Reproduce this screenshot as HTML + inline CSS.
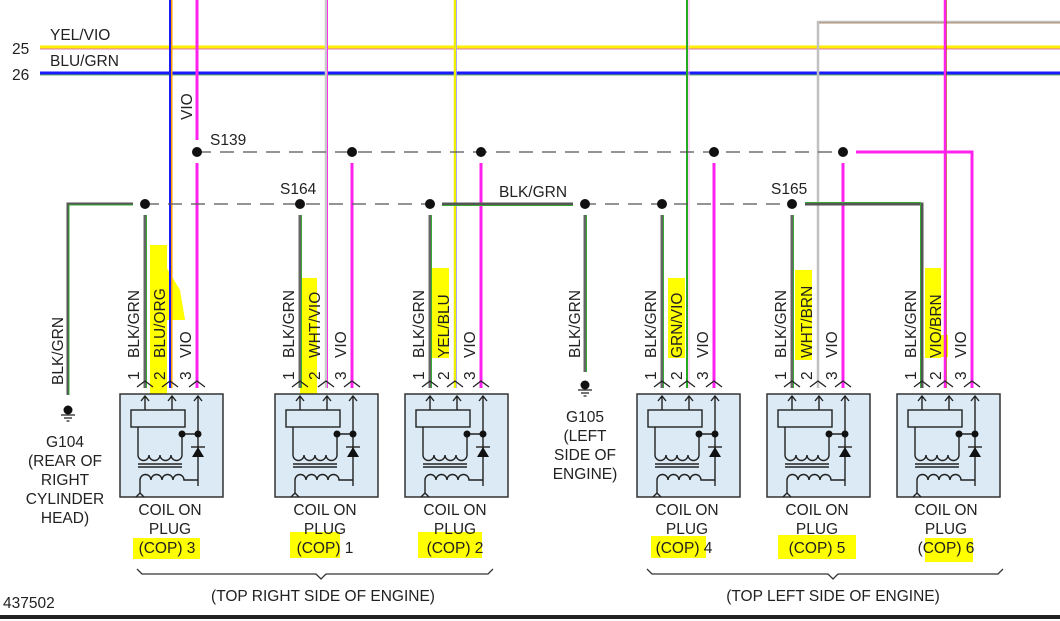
<!DOCTYPE html>
<html><head><meta charset="utf-8"><style>
html,body{margin:0;padding:0;background:#fff;}
svg{display:block;font-family:"Liberation Sans",sans-serif;}
text{fill:#222;font-size:15.5px;}
</style></head><body>
<svg width="1060" height="621" viewBox="0 0 1060 621" xmlns="http://www.w3.org/2000/svg">
<defs>
<g id="cop">
<rect x="0" y="0" width="103" height="103" fill="#dbeaf4" stroke="#333" stroke-width="1.5"/>
<g stroke="#222" stroke-width="1.4" fill="none">
<path d="M25 16V2M21 7l4-5 4 5M52 16V2M48 7l4-5 4 5M78 92V2M74 7l4-5 4 5"/>
<rect x="11" y="16" width="54" height="17" fill="#dbeaf4"/>
<path d="M18 33V61"/>
<path d="M18 61a5.5 5.5 0 0 0 11 0a5.5 5.5 0 0 0 11 0a5.5 5.5 0 0 0 11 0a5.5 5.5 0 0 0 11 0V40H78"/>
<path d="M18 70H62M18 73H62"/>
<path d="M20 86a5.5 5.5 0 0 1 11 0a5.5 5.5 0 0 1 11 0a5.5 5.5 0 0 1 11 0a5.5 5.5 0 0 1 11 0H78"/>
<path d="M20 86V100M16 103l4-4 4 4"/>
<path d="M71 53H85"/>
</g>
<path d="M78 53L72 63H84Z" fill="#111"/>
<circle cx="62" cy="40" r="3.5" fill="#111"/><circle cx="78" cy="40" r="3.5" fill="#111"/>
</g>
<g id="chev" stroke="#222" stroke-width="1.3" fill="none"><path d="M-8 6l8-6 8 6"/></g>
<g id="gnd"><circle cx="0" cy="0" r="4.5" fill="#111"/><path d="M-7 5H7M-4 8H4M-1.5 11H1.5" stroke="#222" stroke-width="1.3"/></g>
</defs>

<g fill="#ffff00">
<rect x="150" y="245" width="17" height="170"/><path d="M165 265l15 25 5 30h-20z"/>
<rect x="300" y="278" width="17" height="120"/>
<rect x="432" y="268" width="17" height="90"/>
<rect x="668" y="278" width="17" height="80"/>
<rect x="795" y="270" width="17" height="90"/>
<rect x="925" y="268" width="16" height="90"/><rect x="935" y="335" width="13" height="22"/>
<rect x="133" y="538" width="67" height="21"/>
<rect x="290" y="532" width="50" height="26"/>
<rect x="418" y="532" width="64" height="26"/>
<rect x="651" y="536" width="55" height="22"/>
<rect x="778" y="535" width="78" height="24"/>
<rect x="925" y="538" width="48" height="24"/>
</g>

<line x1="40" y1="47" x2="1060" y2="47" stroke="#ffee00" stroke-width="3"/>
<line x1="40" y1="49" x2="1060" y2="49" stroke="#d040a0" stroke-width="0.8"/>
<line x1="40" y1="73" x2="1060" y2="73" stroke="#1a1aff" stroke-width="3"/>
<line x1="40" y1="75" x2="1060" y2="75" stroke="#30a030" stroke-width="0.8"/>
<text x="50" y="40">YEL/VIO</text><text x="12" y="54">25</text>
<text x="50" y="66">BLU/GRN</text><text x="12" y="80">26</text>

<line x1="171" y1="0" x2="171" y2="388" stroke="#ff9900" stroke-width="3"/>
<line x1="170" y1="0" x2="170" y2="388" stroke="#1a1aff" stroke-width="2"/>
<line x1="197" y1="0" x2="197" y2="140" stroke="#ff22ee" stroke-width="3"/>
<line x1="197" y1="163" x2="197" y2="388" stroke="#ff22ee" stroke-width="3"/>
<line x1="326" y1="0" x2="326" y2="388" stroke="#c8c8c8" stroke-width="2.5"/>
<line x1="327.5" y1="0" x2="327.5" y2="388" stroke="#ff33ee" stroke-width="1"/>
<line x1="455" y1="0" x2="455" y2="388" stroke="#eeee00" stroke-width="2.5"/>
<line x1="456.5" y1="0" x2="456.5" y2="388" stroke="#9999ff" stroke-width="0.8"/>
<line x1="687" y1="0" x2="687" y2="388" stroke="#22aa22" stroke-width="2"/>
<line x1="689" y1="0" x2="689" y2="388" stroke="#ffaaee" stroke-width="1"/>
<polyline points="818,388 818,22 1060,22" fill="none" stroke="#c0c0c0" stroke-width="2.5"/>
<line x1="819" y1="23" x2="1060" y2="23" stroke="#884400" stroke-width="0.6"/>
<line x1="945" y1="0" x2="945" y2="388" stroke="#ff22ee" stroke-width="2.5"/>
<line x1="946.5" y1="0" x2="946.5" y2="388" stroke="#aa3300" stroke-width="0.6"/>

<line x1="197" y1="152" x2="843" y2="152" stroke="#555" stroke-width="1.3" stroke-dasharray="14,9"/>
<polyline points="856,152 972,152 972,388" fill="none" stroke="#ff22ee" stroke-width="3"/>
<g stroke="#ff22ee" stroke-width="3">
<line x1="352" y1="163" x2="352" y2="388"/><line x1="481" y1="163" x2="481" y2="388"/>
<line x1="714" y1="163" x2="714" y2="388"/><line x1="843" y1="163" x2="843" y2="388"/>
</g>
<g fill="#111"><circle cx="197" cy="152" r="5"/><circle cx="352" cy="152" r="5"/><circle cx="481" cy="152" r="5"/><circle cx="714" cy="152" r="5"/><circle cx="843" cy="152" r="5"/></g>
<text x="210" y="145">S139</text>
<text transform="translate(192,120) rotate(-90)">VIO</text>

<line x1="145" y1="204" x2="792" y2="204" stroke="#555" stroke-width="1.3" stroke-dasharray="14,9"/>
<polyline points="133,204 68,204 68,395" fill="none" stroke="#555" stroke-width="3"/>
<polyline points="133,205 69,205 69,395" fill="none" stroke="#33aa33" stroke-width="1"/>
<line x1="442" y1="204" x2="573" y2="204" stroke="#555" stroke-width="3"/>
<line x1="442" y1="205.5" x2="573" y2="205.5" stroke="#33aa33" stroke-width="1"/>
<polyline points="805,204 922,204 922,388" fill="none" stroke="#555" stroke-width="3"/>
<polyline points="805,202.5 920.5,202.5 920.5,388" fill="none" stroke="#33aa33" stroke-width="1"/>
<g stroke="#666" stroke-width="3">
<line x1="145" y1="215" x2="145" y2="388"/><line x1="300" y1="215" x2="300" y2="388"/>
<line x1="430" y1="215" x2="430" y2="388"/><line x1="585" y1="215" x2="585" y2="372"/>
<line x1="662" y1="215" x2="662" y2="388"/><line x1="792" y1="215" x2="792" y2="388"/>
</g>
<g stroke="#33aa33" stroke-width="1">
<line x1="146.5" y1="215" x2="146.5" y2="388"/><line x1="301.5" y1="215" x2="301.5" y2="388"/>
<line x1="431.5" y1="215" x2="431.5" y2="388"/><line x1="586.5" y1="215" x2="586.5" y2="372"/>
<line x1="663.5" y1="215" x2="663.5" y2="388"/><line x1="793.5" y1="215" x2="793.5" y2="388"/>
</g>
<g fill="#111"><circle cx="145" cy="204" r="5"/><circle cx="300" cy="204" r="5"/><circle cx="430" cy="204" r="5"/><circle cx="585" cy="204" r="5"/><circle cx="662" cy="204" r="5"/><circle cx="792" cy="204" r="5"/></g>
<text x="280" y="194">S164</text><text x="499" y="197">BLK/GRN</text><text x="771" y="194">S165</text>

<use href="#gnd" x="68" y="410"/><use href="#gnd" x="585" y="385"/>
<text transform="translate(63,385) rotate(-90)">BLK/GRN</text>
<text transform="translate(580,358) rotate(-90)">BLK/GRN</text>
<g text-anchor="middle">
<text x="65" y="447">G104</text><text x="65" y="466">(REAR OF</text><text x="65" y="485">RIGHT</text><text x="65" y="504">CYLINDER</text><text x="65" y="523">HEAD)</text>
<text x="585" y="422">G105</text><text x="585" y="441">(LEFT</text><text x="585" y="460">SIDE OF</text><text x="585" y="479">ENGINE)</text>
</g>

<use href="#cop" x="120" y="394"/>
<use href="#cop" x="275" y="394"/><use href="#cop" x="405" y="394"/>
<use href="#cop" x="637" y="394"/><use href="#cop" x="767" y="394"/><use href="#cop" x="897" y="394"/>

<g>
<use href="#chev" x="145" y="381"/><use href="#chev" x="170" y="381"/><use href="#chev" x="197" y="381"/>
<use href="#chev" x="300" y="381"/><use href="#chev" x="326" y="381"/><use href="#chev" x="352" y="381"/>
<use href="#chev" x="430" y="381"/><use href="#chev" x="455" y="381"/><use href="#chev" x="481" y="381"/>
<use href="#chev" x="662" y="381"/><use href="#chev" x="687" y="381"/><use href="#chev" x="714" y="381"/>
<use href="#chev" x="792" y="381"/><use href="#chev" x="818" y="381"/><use href="#chev" x="843" y="381"/>
<use href="#chev" x="922" y="381"/><use href="#chev" x="945" y="381"/><use href="#chev" x="972" y="381"/>
</g>
<g>
<text transform="translate(139,358) rotate(-90)">BLK/GRN</text><text transform="translate(165,358) rotate(-90)">BLU/ORG</text><text transform="translate(191,358) rotate(-90)">VIO</text>
<text transform="translate(294,358) rotate(-90)">BLK/GRN</text><text transform="translate(320,358) rotate(-90)">WHT/VIO</text><text transform="translate(346,358) rotate(-90)">VIO</text>
<text transform="translate(424,358) rotate(-90)">BLK/GRN</text><text transform="translate(449,358) rotate(-90)">YEL/BLU</text><text transform="translate(475,358) rotate(-90)">VIO</text>
<text transform="translate(656,358) rotate(-90)">BLK/GRN</text><text transform="translate(682,358) rotate(-90)">GRN/VIO</text><text transform="translate(708,358) rotate(-90)">VIO</text>
<text transform="translate(786,358) rotate(-90)">BLK/GRN</text><text transform="translate(812,358) rotate(-90)">WHT/BRN</text><text transform="translate(837,358) rotate(-90)">VIO</text>
<text transform="translate(916,358) rotate(-90)">BLK/GRN</text><text transform="translate(941,358) rotate(-90)">VIO/BRN</text><text transform="translate(966,358) rotate(-90)">VIO</text>
</g>
<g>
<text transform="translate(139,380) rotate(-90)">1</text><text transform="translate(165,380) rotate(-90)">2</text><text transform="translate(191,380) rotate(-90)">3</text>
<text transform="translate(294,380) rotate(-90)">1</text><text transform="translate(320,380) rotate(-90)">2</text><text transform="translate(346,380) rotate(-90)">3</text>
<text transform="translate(424,380) rotate(-90)">1</text><text transform="translate(449,380) rotate(-90)">2</text><text transform="translate(475,380) rotate(-90)">3</text>
<text transform="translate(656,380) rotate(-90)">1</text><text transform="translate(682,380) rotate(-90)">2</text><text transform="translate(708,380) rotate(-90)">3</text>
<text transform="translate(786,380) rotate(-90)">1</text><text transform="translate(812,380) rotate(-90)">2</text><text transform="translate(837,380) rotate(-90)">3</text>
<text transform="translate(916,380) rotate(-90)">1</text><text transform="translate(941,380) rotate(-90)">2</text><text transform="translate(966,380) rotate(-90)">3</text>
</g>

<g text-anchor="middle">
<text x="170" y="515">COIL ON</text><text x="170" y="534">PLUG</text><text x="167" y="553">(COP) 3</text>
<text x="325" y="515">COIL ON</text><text x="325" y="534">PLUG</text><text x="325" y="553">(COP) 1</text>
<text x="455" y="515">COIL ON</text><text x="455" y="534">PLUG</text><text x="455" y="553">(COP) 2</text>
<text x="687" y="515">COIL ON</text><text x="687" y="534">PLUG</text><text x="684" y="553">(COP) 4</text>
<text x="817" y="515">COIL ON</text><text x="817" y="534">PLUG</text><text x="817" y="553">(COP) 5</text>
<text x="946" y="515">COIL ON</text><text x="946" y="534">PLUG</text><text x="946" y="553">(COP) 6</text>
<text x="323" y="601">(TOP RIGHT SIDE OF ENGINE)</text>
<text x="833" y="601">(TOP LEFT SIDE OF ENGINE)</text>
</g>
<g fill="none" stroke="#333" stroke-width="1.3">
<path d="M137 569l5 5H316l5 5 5-5H488l5-5"/>
<path d="M647 569l5 5H828l5 5 5-5H998l5-5"/>
</g>
<text x="3" y="608">437502</text>
<rect x="0" y="615" width="1060" height="4" fill="#222"/>
</svg>
</body></html>
